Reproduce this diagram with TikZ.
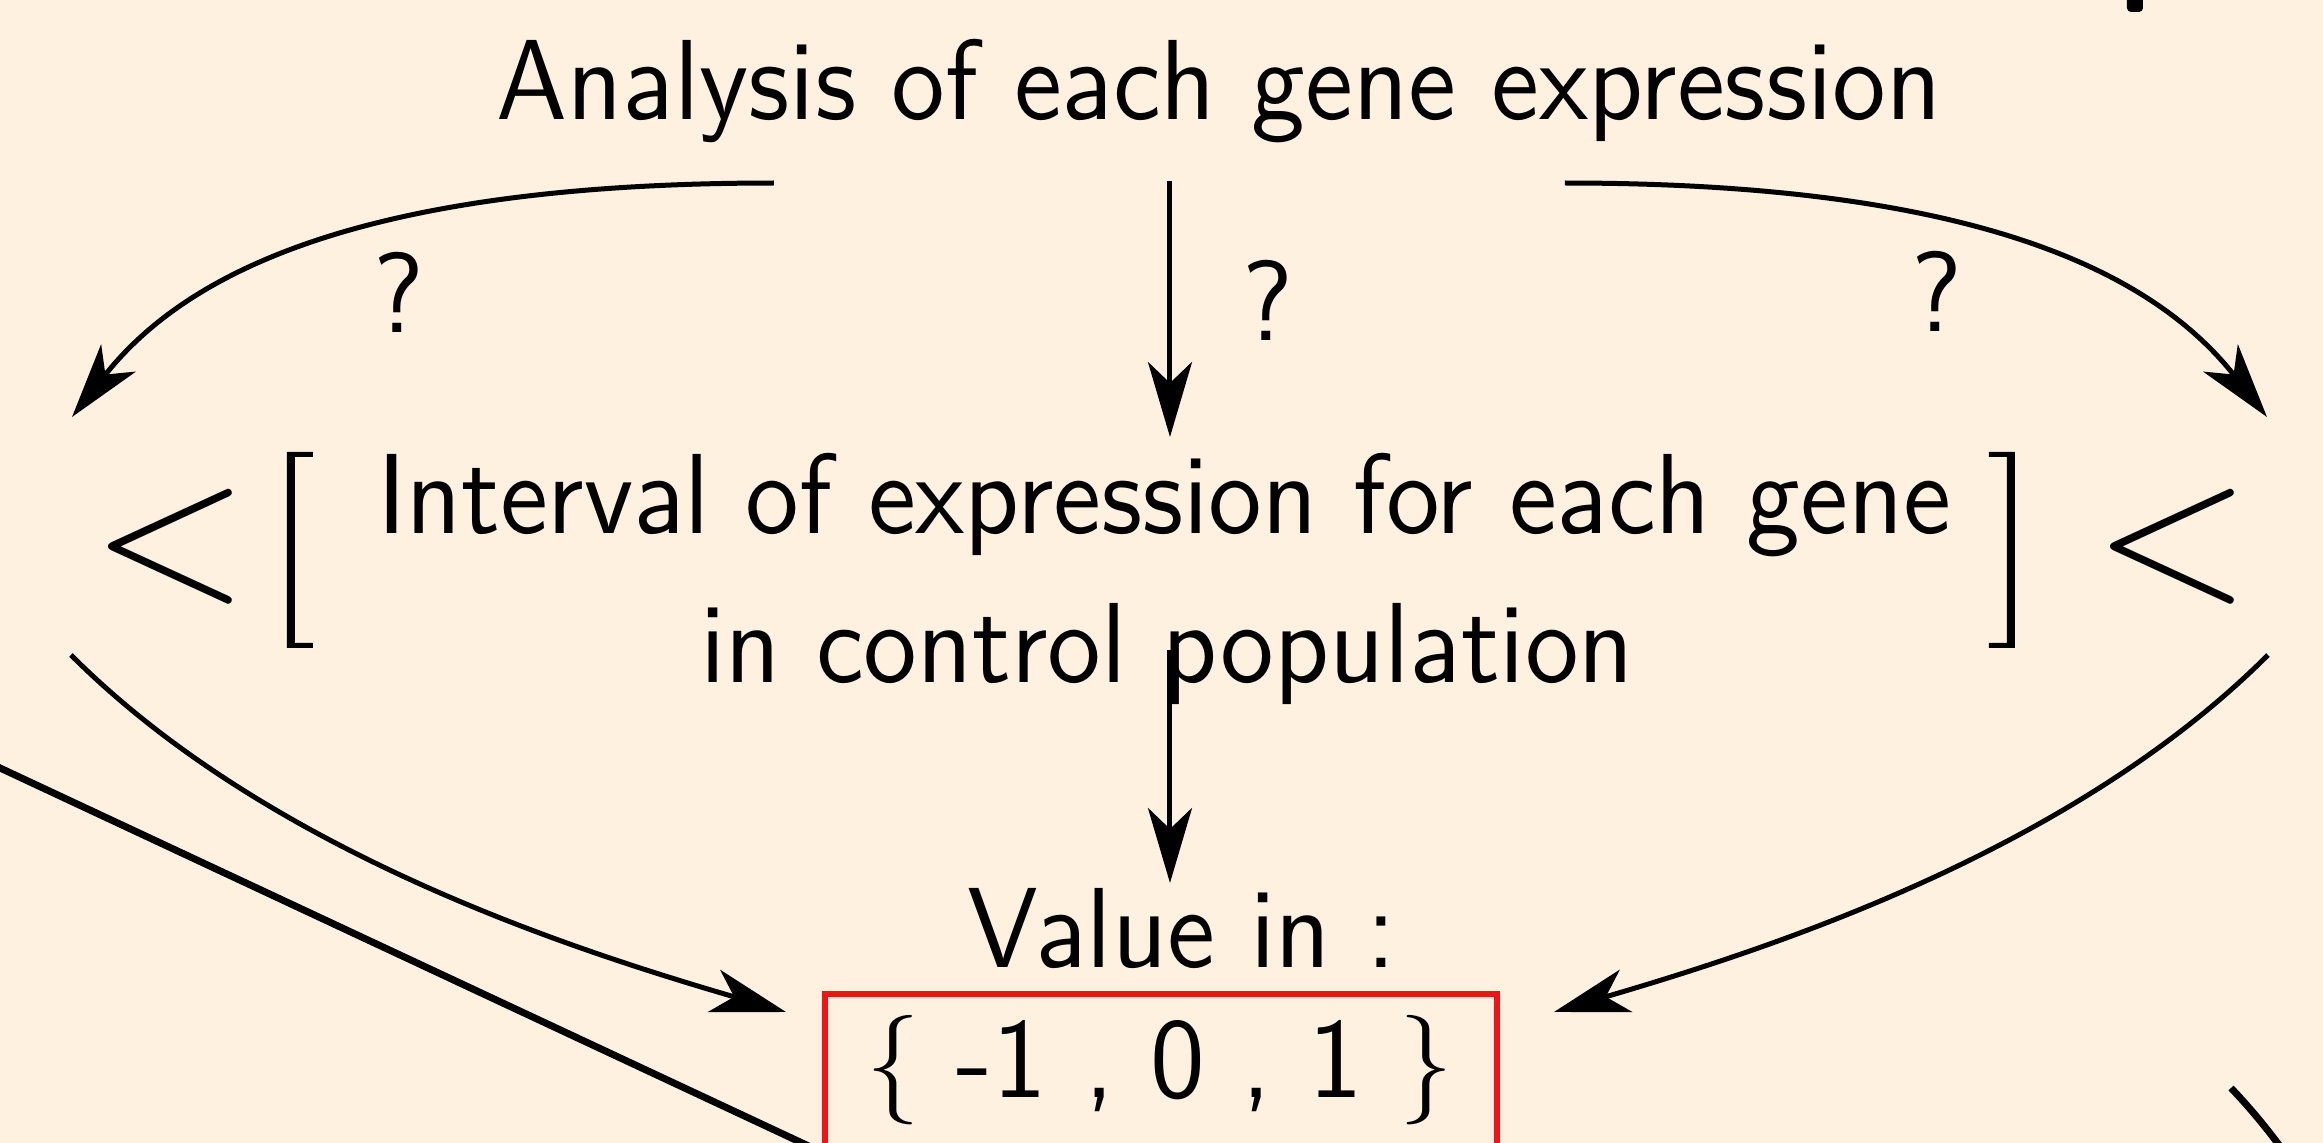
\documentclass[tikz,border=0pt]{standalone}
\usepackage{fontspec}
\usepackage{graphicx}
\usetikzlibrary{arrows.meta}
\definecolor{bg}{RGB}{254,241,224}
\definecolor{boxred}{RGB}{240,20,20}
\newcommand\sqz[1]{\scalebox{0.962}[1]{#1}}
\begin{document}
\begin{tikzpicture}[x=0.1pt,y=-0.1pt,
  txt/.style={inner sep=0pt, anchor=base, font=\fontsize{11.4}{13.7}\selectfont\sffamily},
  ltsym/.style={inner sep=0pt, anchor=base, font=\fontsize{19.9}{22}\selectfont},
  arr/.style={line width=0.5pt, -{Stealth[length=7.5pt,width=4.4pt,inset=2.1pt]}},
  heavy/.style={line width=0.7pt},
  brk/.style={fill=black}
]
\useasboundingbox (0,0) rectangle (2323,1143);
\fill[bg] (0,0) rectangle (2323,1143);
\clip (0,0) rectangle (2323,1143);

% texts
\node[txt] (title) at (1219,120) {\sqz{Analysis of each gene expression}};
\node[txt] (int1) at (1164,534) {\sqz{Interval of expression for each gene}};
\node[txt] (int2) at (1167,683) {\sqz{in control population}};
\node[txt] (val) at (1182,968) {\sqz{Value in :}};
\node[txt] (set) at (1160,1098) {\scalebox{0.98}[1]{$\{$ -1 , 0 , 1 $\}$}};
\node[txt] (q1) at (399,333) {\sqz{?}};
\node[txt] (q2) at (1268,341) {\sqz{?}};
\node[txt] (q3) at (1937,332) {\sqz{?}};
\node[ltsym] (lt1) at (170,598.8) {$<$};
\node[ltsym] (lt2) at (2172,598.8) {$<$};

% brackets
\fill[brk] (287,452) -- (313,452) -- (313,457) -- (295,457) -- (295,643) -- (313,643) -- (313,648) -- (287,648) -- cycle;
\fill[brk] (2015,452) -- (1989,452) -- (1989,457) -- (2007,457) -- (2007,643) -- (1989,643) -- (1989,648) -- (2015,648) -- cycle;

% red box
\draw[boxred, line width=0.6pt] (825,994) rectangle (1497,1300);

% arrow end points
\coordinate (sL) at (774,183);
\coordinate (tL) at (72,417);
\coordinate (sR) at (1565,183);
\coordinate (tR) at (2267,417);
\coordinate (sM) at (1170,181);
\coordinate (tM) at (1170,437);
\coordinate (sM2) at (1170,650);
\coordinate (tM2) at (1170,883);
\coordinate (sLL) at (71,655);
\coordinate (tLL) at (786,1012);
\coordinate (sRR) at (2268,655);
\coordinate (tRR) at (1554,1012);

\draw[arr] (sL) .. controls (354,183) and (183,276) .. (tL);
\draw[arr] (sR) .. controls (1985,183) and (2156,276) .. (tR);
\draw[arr] (sM) -- (tM);
\draw[arr] (sM2) -- (tM2);
\draw[arr] (sLL) .. controls (269,853) and (574,950) .. (tLL);
\draw[arr] (sRR) .. controls (2070,853) and (1765,950) .. (tRR);

% cut-off elements
\coordinate (d1) at (-50,744.6);
\coordinate (d2) at (815,1149);
\draw[heavy] (d1) -- (d2);
\coordinate (e1) at (2231,1088);
\coordinate (e2) at (2290,1160);
\draw[heavy] (e1) .. controls (2252,1110) and (2270,1132) .. (e2);
\fill[rounded corners=0.4pt] (2127,-30) rectangle (2143,12);
\end{tikzpicture}
\end{document}
